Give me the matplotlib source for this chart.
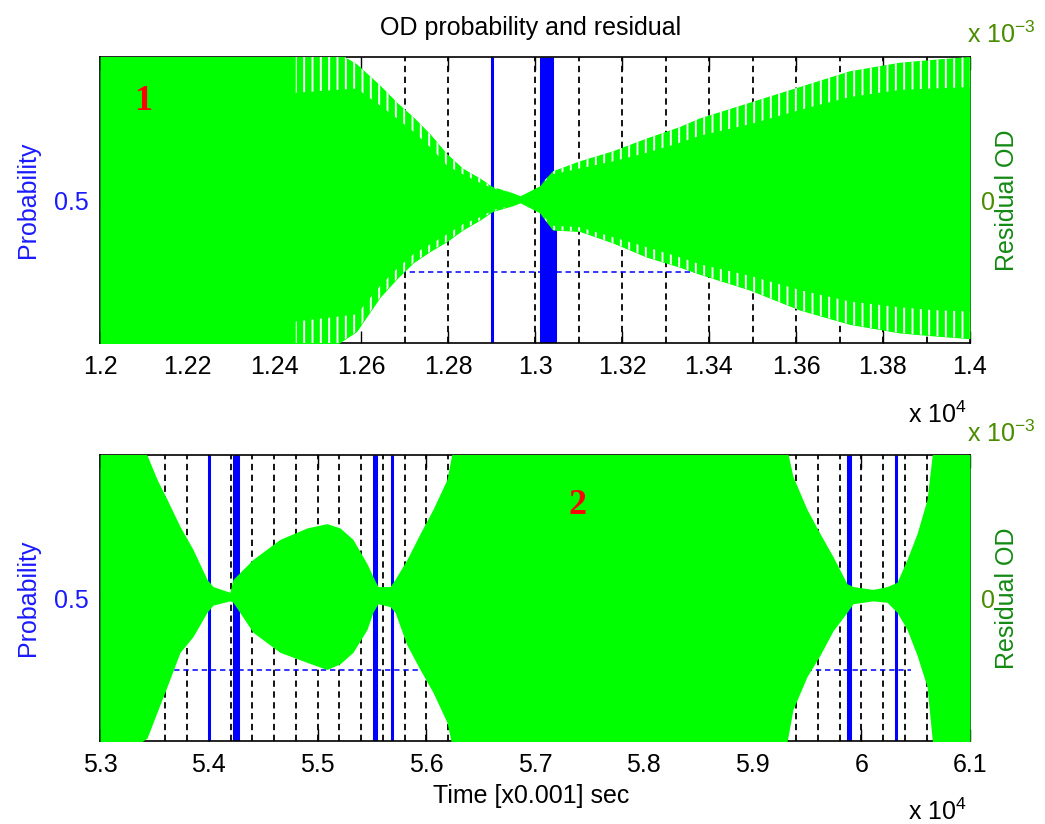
import numpy as np
import matplotlib
matplotlib.use('Agg')
from matplotlib import pyplot as plt

plt.rcParams['font.family'] = ['Liberation Sans', 'DejaVu Sans']
plt.rcParams['font.size'] = 18
plt.rcParams['mathtext.fontset'] = 'custom'
plt.rcParams['mathtext.rm'] = 'Liberation Sans'
plt.rcParams['mathtext.it'] = 'Liberation Sans:italic'
plt.rcParams['hatch.linewidth'] = 1.4

# --- panel 1 : residual envelope (x1e-3), time in x0.001 s
top_t = [12000, 12450, 12590, 12644, 12683, 12720, 12759, 12798, 12834, 12874, 12903,
         12949, 12966, 13011, 13041, 13103, 13179, 13257, 13333, 13379, 13494, 13609,
         13724, 13839, 13915, 14000]
# outer edge (tips of the oscillation)
top_up = [1.2, 1.2, 0.95, 0.80, 0.68, 0.58, 0.46, 0.32, 0.22, 0.15, 0.09,
          0.05, 0.03, 0.10, 0.20, 0.27, 0.34, 0.43, 0.51, 0.57, 0.68, 0.79,
          0.90, 0.96, 0.98, 1.0]
top_lo = [1.2, 1.2, 0.92, 0.68, 0.55, 0.44, 0.36, 0.29, 0.21, 0.14, 0.08,
          0.04, 0.02, 0.09, 0.21, 0.22, 0.30, 0.40, 0.47, 0.52, 0.63, 0.77,
          0.87, 0.93, 0.95, 0.97]
# inner solid edge (where the white gaps stop)
top_up_in = [1.2, 0.75, 0.78, 0.66, 0.57, 0.48, 0.37, 0.24, 0.18, 0.12, 0.08,
             0.05, 0.03, 0.10, 0.18, 0.22, 0.27, 0.33, 0.40, 0.45, 0.53, 0.63,
             0.72, 0.77, 0.78, 0.79]
top_lo_in = [1.2, 0.85, 0.80, 0.60, 0.48, 0.38, 0.31, 0.24, 0.17, 0.12, 0.07,
             0.04, 0.02, 0.09, 0.18, 0.19, 0.26, 0.33, 0.40, 0.45, 0.53, 0.63,
             0.71, 0.75, 0.77, 0.78]
top_gap_from = 12450
top_blue = [12900, 13014, 13021, 13028, 13035, 13039]
top_blue_short = [13046]
top_dash = list(range(12700, 14000, 100))
top_hline = [12500, 13640]
top_ticks = list(range(12000, 14001, 200))
top_ticklabels = ['1.2', '1.22', '1.24', '1.26', '1.28', '1.3', '1.32', '1.34', '1.36', '1.38', '1.4']

# --- panel 2
bot_t = [53000, 53432, 53524, 53616, 53736, 53855, 53984, 54039, 54195, 54223, 54407,
         54655, 54903, 55087, 55207, 55326, 55455, 55510, 55556, 55667, 55713, 55823,
         55943, 56062, 56191, 56283, 59271, 59372, 59501, 59621, 59740, 59869, 59924,
         60108, 60237, 60329, 60421, 60513, 60605, 60660, 61000]
bot_up = [1.2, 1.0, 0.83, 0.69, 0.50, 0.34, 0.13, 0.08, 0.04, 0.13, 0.27,
          0.41, 0.49, 0.52, 0.49, 0.41, 0.24, 0.15, 0.08, 0.08, 0.13, 0.27,
          0.45, 0.62, 0.83, 1.2, 1.2, 0.85, 0.62, 0.45, 0.29, 0.10, 0.08,
          0.06, 0.08, 0.11, 0.27, 0.45, 0.69, 1.05, 1.2]
bot_lo = [1.2, 0.98, 0.80, 0.62, 0.38, 0.27, 0.10, 0.05, 0.02, 0.03, 0.24,
          0.38, 0.45, 0.50, 0.46, 0.38, 0.22, 0.10, 0.04, 0.06, 0.10, 0.33,
          0.50, 0.66, 0.87, 1.2, 1.2, 0.78, 0.55, 0.40, 0.23, 0.10, 0.04,
          0.02, 0.03, 0.10, 0.22, 0.40, 0.62, 1.05, 1.2]
bot_blue = [54000, 54236, 54248, 54260, 54270, 55515, 55540, 55685, 59880, 59898, 60320]
bot_dash = list(range(53600, 60601, 200))
bot_hline = [53600, 60460]
bot_ticks = list(range(53000, 61001, 1000))
bot_ticklabels = ['5.3', '5.4', '5.5', '5.6', '5.7', '5.8', '5.9', '6', '6.1']

prob_level = 0.25

W, H = 1045, 824
fig = plt.figure(figsize=(W / 100, H / 100), dpi=100)

blue_txt = '#1a1aff'
green_lbl = '#138a13'
green_tick = '#4a8c00'
green = '#00ff00'


def panel(top_px, t, up, lo, blue, dash, hline, ticks, ticklabels, blue_short=None):
    ax = fig.add_axes([100 / W, 1 - (top_px + 286) / H, 870 / W, 286 / H])
    ax.set_xlim(ticks[0], ticks[-1])
    ax.set_ylim(0, 1)
    for x in dash:
        ax.plot([x, x], [0, 1], color='k', lw=1.3, dashes=(3.5, 2.5))
    ax.plot(hline, [prob_level, prob_level], color='b', lw=1.1, dashes=(3.5, 2.5))
    for x in blue:
        ax.plot([x, x], [0, 1], color='b', lw=2.2, solid_capstyle='butt')
    if blue_short:
        for x in blue_short:
            ax.plot([x, x], [0, 0.4], color='b', lw=2.2, solid_capstyle='butt')
    ax.set_xticks(ticks)
    ax.set_xticklabels(ticklabels)
    ax.set_yticks([0.5])
    ax.set_yticklabels(['0.5'], color=blue_txt)
    ax.tick_params(axis='x', direction='in', top=True, length=9, width=1, pad=9)
    ax.tick_params(axis='y', direction='in', length=9, pad=8)
    ax.set_ylabel('Probability', color=blue_txt)
    ax.yaxis.set_label_coords(-60 / 870, 0.5)
    for s in ax.spines.values():
        s.set_linewidth(1.2)

    ax2 = ax.twinx()
    ax2.fill_between(t, [-v for v in lo], up, color=green, lw=0, antialiased=False)
    ax2.set_ylim(-1, 1)
    ax2.set_yticks([0])
    ax2.set_yticklabels(['0'], color=green_tick)
    ax2.tick_params(axis='y', length=0, pad=8)
    ax2.set_ylabel('Residual OD', color=green_lbl)
    ax2.yaxis.set_label_coords(1 + 25 / 870, 0.5)
    for s in ax2.spines.values():
        s.set_visible(False)
    return ax, ax2


a1, b1 = panel(57, top_t, top_up, top_lo, top_blue, top_dash, top_hline,
               top_ticks, top_ticklabels, top_blue_short)
a2, b2 = panel(455, bot_t, bot_up, bot_lo, bot_blue, bot_dash, bot_hline,
               bot_ticks, bot_ticklabels)

# white gaps between the oscillation tips in panel 1
gap_mask = [x >= top_gap_from for x in top_t]
b1.fill_between(top_t, top_up_in, top_up, where=gap_mask, facecolor=green,
                edgecolor='white', hatch='||', lw=0)
b1.fill_between(top_t, [-v for v in top_lo], [-v for v in top_lo_in], where=gap_mask,
                facecolor=green, edgecolor='white', hatch='||', lw=0)

fig.text(531 / W, 1 - 35 / H, 'OD probability and residual', ha='center', va='baseline')
fig.text(531 / W, 1 - 803 / H, 'Time [x0.001] sec', ha='center', va='baseline')

fig.text(908 / W, 1 - 423 / H, r'x 10$^{4}$', ha='left', va='baseline')
fig.text(908 / W, 1 - 820 / H, r'x 10$^{4}$', ha='left', va='baseline')
fig.text(967 / W, 1 - 43 / H, r'x 10$^{-3}$', ha='left', va='baseline', color=green_tick)
fig.text(967 / W, 1 - 442 / H, r'x 10$^{-3}$', ha='left', va='baseline', color=green_tick)

fig.text(143 / W, 1 - 102 / H, '1', color='red', fontsize=26, fontweight='bold',
         family='Liberation Serif', ha='center', va='center')
fig.text(578 / W, 1 - 505 / H, '2', color='red', fontsize=26, fontweight='bold',
         family='Liberation Serif', ha='center', va='center')

fig.savefig('out.png', dpi=100)
